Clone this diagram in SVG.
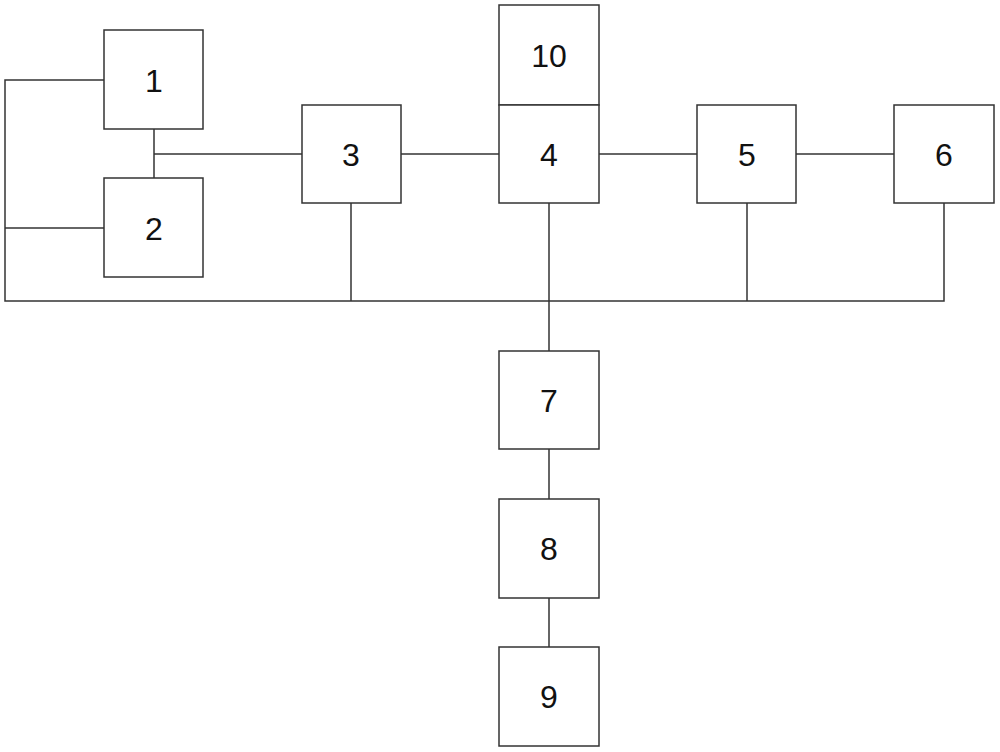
<svg xmlns="http://www.w3.org/2000/svg" width="1000" height="752" viewBox="0 0 1000 752">
<style>
.box{fill:#fff;stroke:#333;stroke-width:1.5}
.lbl{font-family:"Liberation Sans",Arial,sans-serif;font-size:32px;fill:#111;text-anchor:middle}
.wire{fill:none;stroke:#333;stroke-width:1.5}
</style>
<rect width="1000" height="752" fill="#fff"/>
<g id="connectors">
<polyline class="wire" points="104,80 5,80 5,301 944,301 944,203"/>
<line class="wire" x1="5" y1="228" x2="104" y2="228"/>
<line class="wire" x1="154" y1="129" x2="154" y2="178"/>
<line class="wire" x1="154" y1="154" x2="302" y2="154"/>
<line class="wire" x1="401" y1="154" x2="499" y2="154"/>
<line class="wire" x1="599" y1="154" x2="697" y2="154"/>
<line class="wire" x1="796" y1="154" x2="894" y2="154"/>
<line class="wire" x1="351" y1="203" x2="351" y2="301"/>
<line class="wire" x1="549" y1="203" x2="549" y2="351"/>
<line class="wire" x1="747" y1="203" x2="747" y2="301"/>
<line class="wire" x1="549" y1="449" x2="549" y2="499"/>
<line class="wire" x1="549" y1="598" x2="549" y2="647"/>
</g>
<g id="n1"><rect class="box" x="104" y="30" width="99" height="99"/><text class="lbl" x="154" y="92">1</text></g>
<g id="n2"><rect class="box" x="104" y="178" width="99" height="99"/><text class="lbl" x="154" y="240">2</text></g>
<g id="n3"><rect class="box" x="302" y="105" width="99" height="98"/><text class="lbl" x="351" y="166">3</text></g>
<g id="n10"><rect class="box" x="499" y="5" width="100" height="100"/><text class="lbl" x="549" y="67">10</text></g>
<g id="n4"><rect class="box" x="499" y="105" width="100" height="98"/><text class="lbl" x="549" y="166">4</text></g>
<g id="n5"><rect class="box" x="697" y="105" width="99" height="98"/><text class="lbl" x="747" y="166">5</text></g>
<g id="n6"><rect class="box" x="894" y="105" width="100" height="98"/><text class="lbl" x="944" y="166">6</text></g>
<g id="n7"><rect class="box" x="499" y="351" width="100" height="98"/><text class="lbl" x="549" y="412">7</text></g>
<g id="n8"><rect class="box" x="499" y="499" width="100" height="99"/><text class="lbl" x="549" y="560">8</text></g>
<g id="n9"><rect class="box" x="499" y="647" width="100" height="99"/><text class="lbl" x="549" y="708">9</text></g>
</svg>
